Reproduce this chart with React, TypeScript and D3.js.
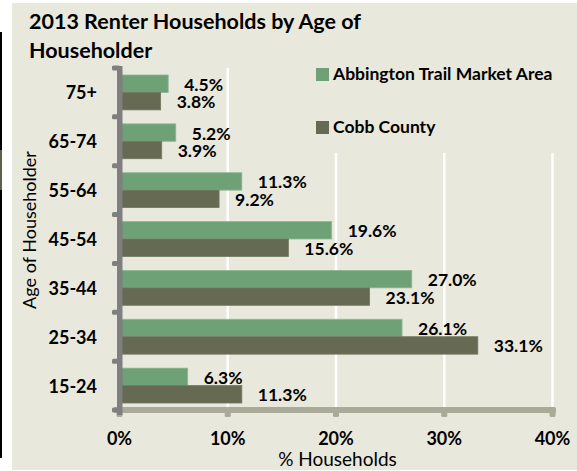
import React from "react";
import * as d3 from "d3";

const categories = ["15-24", "25-34", "35-44", "45-54", "55-64", "65-74", "75+"];
const abbington = [6.3, 26.1, 27.0, 19.6, 11.3, 5.2, 4.5];
const cobb = [11.3, 33.1, 23.1, 15.6, 9.2, 3.9, 3.8];
const seriesNames = ["Abbington Trail Market Area", "Cobb County"];
const xTicks = [0, 10, 20, 30, 40];

const W = 577;
const H = 471;
const BG = "#E9E8DC";
const GREEN = "#6FA176";
const GREEN_EDGE = "#8DB894";
const DARK = "#666A53";
const AXIS_GRAY = "#7F7F7F";
const XAXIS = "#A9AA97";
const FONT = "Lato, 'Open Sans', sans-serif";

export default function App() {
  const x = d3.scaleLinear().domain([0, 40]).range([119.5, 552.5]);
  const displayOrder = [...categories].reverse();
  const y = d3
    .scaleBand<string>()
    .domain(displayOrder)
    .range([68, 410])
    .paddingInner(0.286)
    .paddingOuter(0.143);
  const sub = d3.scaleBand<string>().domain(seriesNames).range([0, y.bandwidth()]);
  const colors = [GREEN, DARK];
  const seriesVals = [abbington, cobb];
  const fmt = (v: number) => d3.format(".1f")(v) + "%";
  const step = y.step();
  const plotTop = 68;
  const plotBottom = 410;

  return (
    <svg
      width={W}
      height={H}
      style={{ position: "absolute", left: 0, top: 0 }}
      fontFamily={FONT}
    >
      <rect x={0} y={0} width={W} height={H} fill="#fff" />
      <rect x={12} y={3} width={W - 12} height={467} fill={BG} />
      <rect x={0} y={32} width={2} height={426} fill="#000" />
      <rect x={0} y={150} width={2} height={40} fill="#5d604b" />

      {/* gridlines */}
      {xTicks.slice(1).map((t) => (
        <line
          key={"g" + t}
          x1={x(t)}
          x2={x(t)}
          y1={plotTop}
          y2={plotBottom}
          stroke="#fff"
          strokeWidth={2.5}
        />
      ))}

      {/* legend background covering gridlines */}
      <rect x={300} y={55} width={270} height={98} fill={BG} />

      {/* bars */}
      {seriesVals.map((vals, si) =>
        categories.map((c, i) => {
          const y0 = (y(c) as number) + (sub(seriesNames[si]) as number);
          return (
            <rect
              key={si + c}
              x={x(0)}
              y={y0}
              width={x(vals[i]) - x(0)}
              height={sub.bandwidth()}
              fill={colors[si]}
              stroke={si === 0 ? GREEN_EDGE : "#74775f"}
              strokeWidth={0.8}
            />
          );
        })
      )}

      {/* data labels */}
      {seriesVals.map((vals, si) =>
        categories.map((c, i) => {
          const cy = (y(c) as number) + (sub(seriesNames[si]) as number) + sub.bandwidth() / 2;
          return (
            <text
              key={"l" + si + c}
              x={x(vals[i]) + 16}
              y={cy + 7}
              fontSize={17.5}
              fontWeight="bold"
              fill="#000"
            >
              {fmt(vals[i])}
            </text>
          );
        })
      )}

      {/* x axis */}
      <rect x={114} y={407} width={442} height={6} rx={1.5} fill={XAXIS} />
      {xTicks.map((t) => (
        <rect key={"xt" + t} x={x(t) - 3} y={409} width={6} height={8} rx={1.5} fill={XAXIS} />
      ))}
      {xTicks.map((t) => (
        <text
          key={"xl" + t}
          x={x(t)}
          y={445}
          textAnchor="middle"
          fontSize={18}
          fontWeight="bold"
          fill="#000"
        >
          {t + "%"}
        </text>
      ))}
      <text x={337.5} y={466} textAnchor="middle" fontSize={19} fill="#000">
        % Households
      </text>

      {/* y axis */}
      <rect x={117} y={66} width={5.5} height={349} fill={AXIS_GRAY} />
      {d3.range(displayOrder.length + 1).map((k) => (
        <rect
          key={"yt" + k}
          x={112}
          y={plotTop + k * step - 2.5}
          width={8}
          height={5}
          rx={1.5}
          fill={AXIS_GRAY}
        />
      ))}
      {displayOrder.map((c) => (
        <text
          key={"yl" + c}
          x={97}
          y={(y(c) as number) + y.bandwidth() / 2 + 7}
          textAnchor="end"
          fontSize={18}
          fontWeight="bold"
          fill="#000"
        >
          {c}
        </text>
      ))}
      <text
        transform="translate(36,230) rotate(-90)"
        textAnchor="middle"
        fontSize={18}
        fill="#000"
      >
        Age of Householder
      </text>

      {/* title */}
      <text x={29} y={29} fontSize={21.5} fontWeight="bold" fill="#000">
        2013 Renter Households by Age of
      </text>
      <text x={29} y={58} fontSize={21.5} fontWeight="bold" fill="#000">
        Householder
      </text>

      {/* legend */}
      {seriesNames.map((s, i) => (
        <g key={"lg" + s} transform={`translate(316,${68 + i * 53})`}>
          <rect x={0} y={0} width={13} height={13} fill={colors[i]} />
          <text x={17} y={11.5} fontSize={17.5} fontWeight="bold" fill="#000">
            {s}
          </text>
        </g>
      ))}
    </svg>
  );
}
